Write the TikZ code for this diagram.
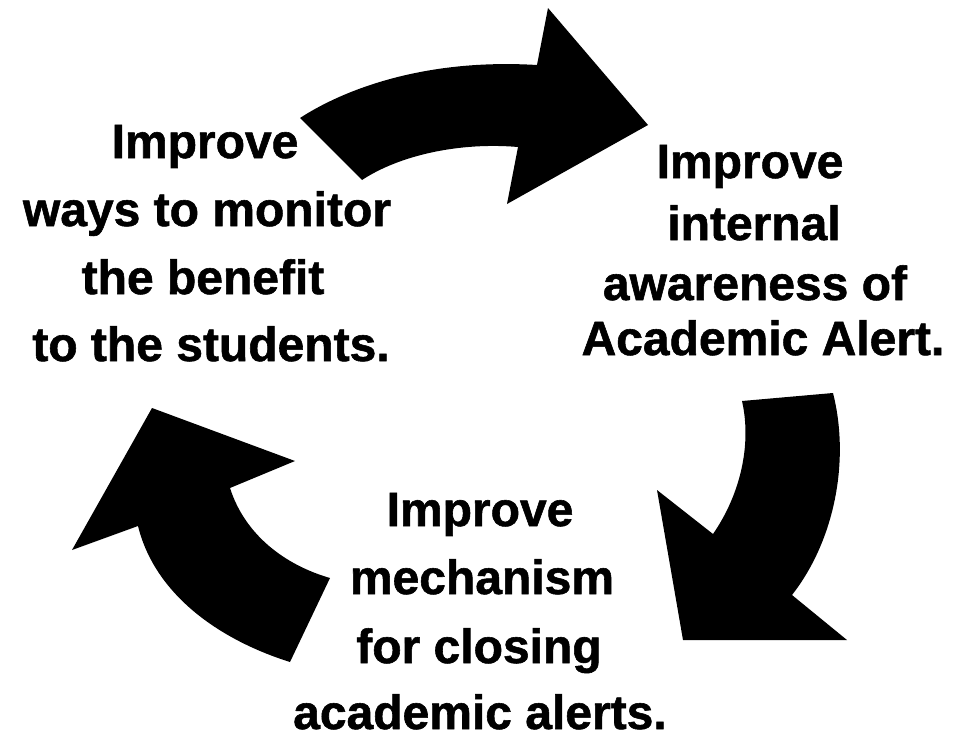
\documentclass[tikz,border=0pt]{standalone}
\usepackage{fontspec}
\setmainfont{Liberation Sans}[BoldFeatures={FakeBold=1.2}]
\begin{document}
\begin{tikzpicture}[x=1pt,y=-1pt,
  lbl/.style={anchor=base,inner sep=0pt,font=\bfseries\fontsize{48}{56}\selectfont},
  arr/.style={fill=black,draw=none}]
\useasboundingbox (0,0) rectangle (954,739);
\fill[white] (0,0) rectangle (954,739);
% top arrow
\path[arr] (300,118) .. controls (340,92) and (420,58) .. (537,65)
  -- (548,8) -- (648,125) -- (507,204) -- (518,147)
  .. controls (460,142) and (400,155) .. (362,180) -- cycle;
% right arrow
\path[arr] (742,401) -- (833,393) .. controls (850,460) and (835,540) .. (792,595)
  -- (847,640) -- (683,640) -- (657,490) -- (713,534)
  .. controls (740,495) and (752,445) .. (742,401) -- cycle;
% left arrow
\path[arr] (152,408) -- (295,461) -- (230,488)
  .. controls (245,535) and (285,565) .. (330,578)
  -- (290,662) .. controls (220,640) and (155,595) .. (138,526)
  -- (72,550) -- cycle;
% left text
\node[lbl] (a1) at (205,158) {Improve};
\node[lbl] (a2) at (207,226) {ways to monitor};
\node[lbl] (a3) at (203,294) {the benefit};
\node[lbl] (a4) at (211,361) {to the students.};
% right text
\node[lbl] (b1) at (750,178) {Improve};
\node[lbl] (b2) at (754,240) {internal};
\node[lbl] (b3) at (755,300) {awareness of};
\node[lbl] (b4) at (763,355) {Academic Alert.};
% bottom text
\node[lbl] (c1) at (480,526) {Improve};
\node[lbl] (c2) at (482,594) {mechanism};
\node[lbl] (c3) at (479,663) {for closing};
\node[lbl] (c4) at (480,729) {academic alerts.};
\end{tikzpicture}
\end{document}
